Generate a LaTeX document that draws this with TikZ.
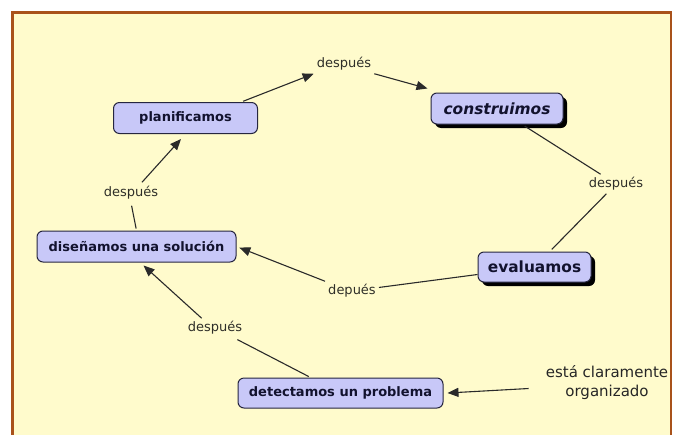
\documentclass[tikz,border=0pt]{standalone}
\usepackage{fontspec}
\setmainfont{DejaVu Sans}
\usetikzlibrary{arrows.meta,shadows,calc}
\definecolor{bgyellow}{HTML}{FFFBCC}
\definecolor{framebrown}{HTML}{A9521A}
\definecolor{boxfill}{HTML}{C8C8F8}
\definecolor{boxline}{HTML}{262640}
\definecolor{boxtext}{HTML}{12122E}
\definecolor{linktext}{HTML}{2E2E28}
\definecolor{conncol}{HTML}{2A2A2A}
\begin{document}
\begin{tikzpicture}[x=1pt,y=-1pt,
  concept/.style={draw=boxline, line width=1pt, fill=boxfill, rounded corners=6pt,
    text=boxtext, font=\fontsize{13}{15}\selectfont\bfseries, inner sep=0pt, minimum height=31pt},
  bigconcept/.style={concept, font=\fontsize{15.4}{18}\selectfont\bfseries},
  shadowed/.style={drop shadow={shadow xshift=4pt, shadow yshift=-4pt, fill=black, opacity=1}},
  linkword/.style={text=linktext, font=\fontsize{13}{15}\selectfont, inner sep=3pt},
  conn/.style={draw=conncol, line width=1.1pt},
  arr/.style={conn, -{Triangle[length=11pt,width=9pt]}},
]
\useasboundingbox (0,0) rectangle (674,434);
\fill[white] (0,0) rectangle (674,434);
\begin{scope}
  \clip (0,0) rectangle (674,434);
  \draw[framebrown, line width=2.6pt, fill=bgyellow] (12.3,12.3) rectangle (671,460);
\end{scope}

% concepts
\node[concept, minimum width=144pt] (plan) at (185.5,118) {planificamos};
\node[bigconcept, shadowed, minimum width=132pt, font=\fontsize{15.4}{18}\selectfont\bfseries\itshape] (cons) at (497,108.5) {construimos};
\node[concept, minimum width=199pt] (dis) at (136.5,246.5) {diseñamos una solución};
\node[bigconcept, shadowed, minimum width=113pt, minimum height=30pt] (eval) at (534.5,267) {evaluamos};
\node[concept, minimum width=205pt, minimum height=30pt] (det) at (340.5,393) {detectamos un problema};

% linking words
\node[linkword] (d1) at (344,64) {después};
\node[linkword] (d2) at (616,184) {después};
\node[linkword] (d3) at (131,193) {después};
\node[linkword] (dep) at (352,291) {depués};
\node[linkword] (d5) at (215,328) {después};
\node[text=black!85, font=\fontsize{15}{19}\selectfont, align=center, inner sep=3pt] (org) at (607,382.5) {está claramente\\organizado};

% connectors
\draw[arr, shorten <=2pt] (plan.16) -- (d1.south west);
\draw[arr] (d1.south east) -- ($(cons.north west)+(-3,-4)$);
\draw[conn, shorten <=3pt] (cons) -- (d2);
\draw[conn, shorten >=3pt] (d2) -- (eval);
\draw[conn] (eval) -- (dep);
\draw[arr, shorten >=3pt] (dep.north west) -- (dis.east);
\draw[conn, shorten <=2pt, shorten >=4pt] (det) -- (d5);
\draw[arr] ($(d5.north west)+(17,0)$) -- ($(dis.south)+(7,3)$);
\draw[conn, shorten <=2pt, shorten >=3pt] (dis.north) -- (d3.south);
\draw[arr] ($(d3.north)+(11,-1)$) -- ($(plan.south)+(-4.5,5)$);
\draw[arr] ($(org.west)+(-14,6)$) -- ($(det.east)+(4,0)$);
\end{tikzpicture}
\end{document}
